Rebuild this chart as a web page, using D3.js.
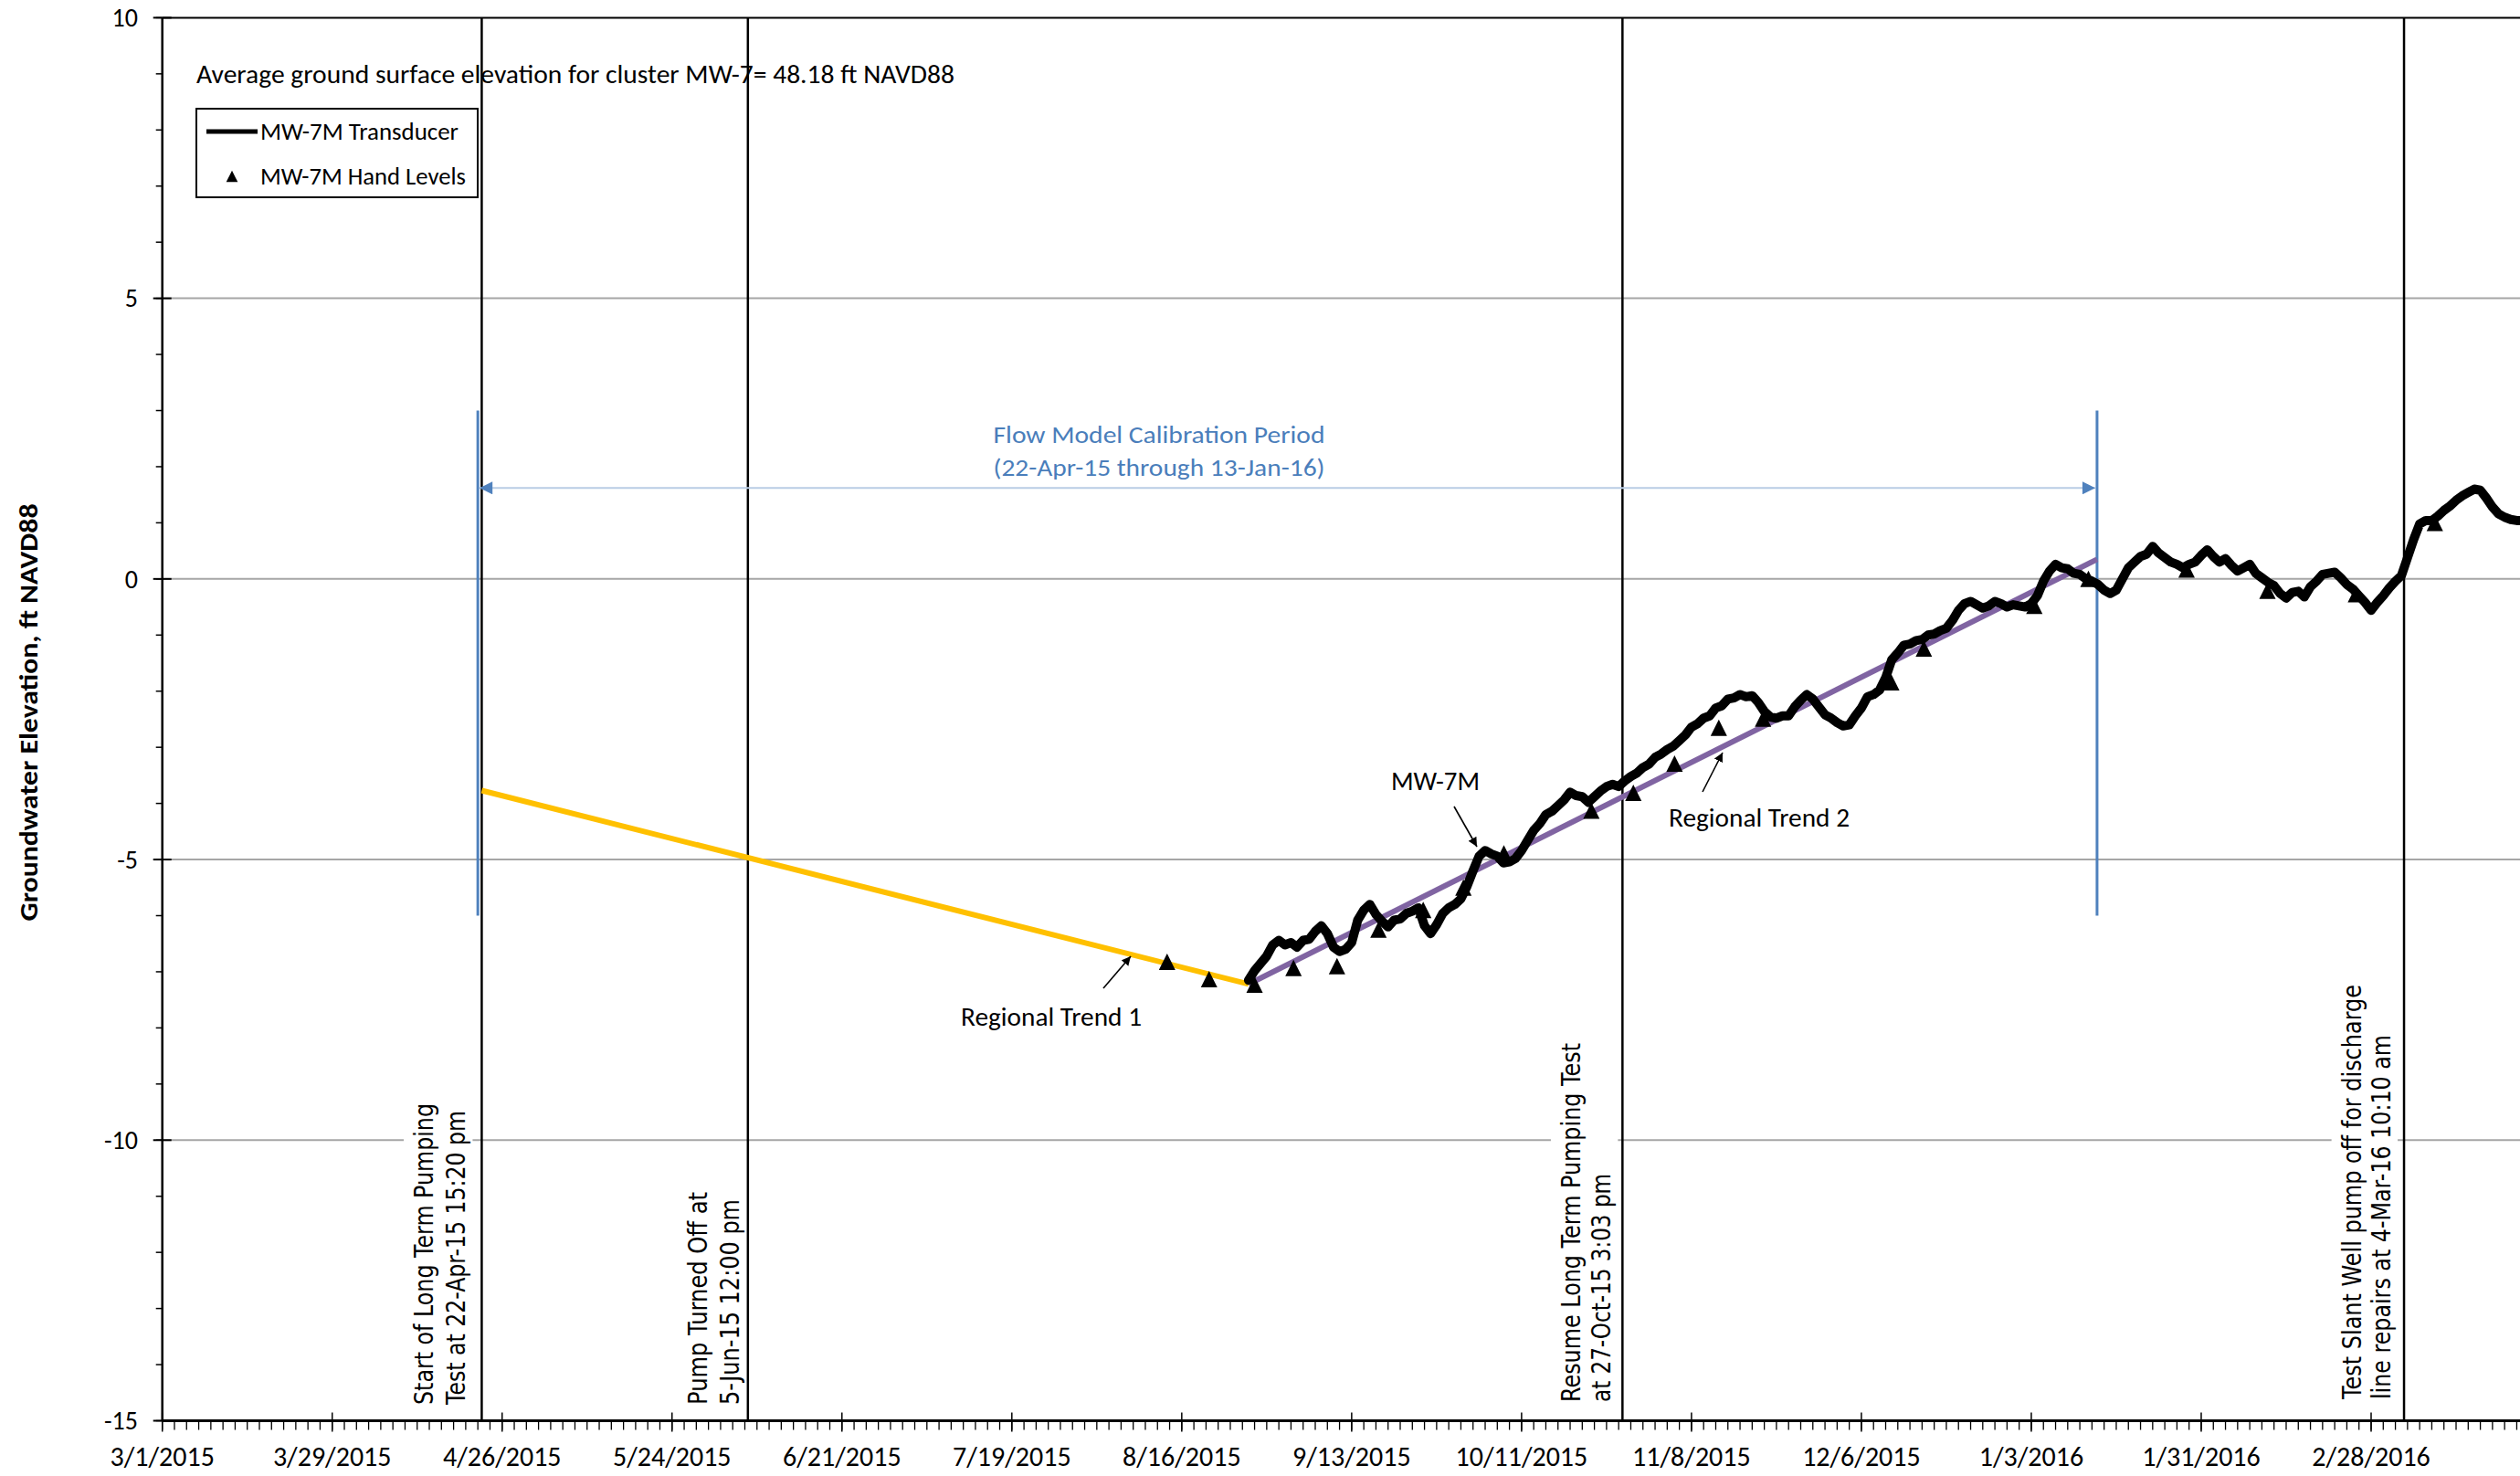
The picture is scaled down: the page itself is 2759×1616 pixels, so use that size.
<!DOCTYPE html>
<html><head><meta charset="utf-8">
<script src="https://cdn.jsdelivr.net/npm/d3@7"></script>
<style>html,body{margin:0;padding:0;background:#fff;}svg{display:block}</style>
</head><body>
<svg id="chart" width="2759" height="1616"></svg>
<script>
// ---------------- DATA ----------------
const xTickLabels = ["3/1/2015","3/29/2015","4/26/2015","5/24/2015","6/21/2015","7/19/2015","8/16/2015",
  "9/13/2015","10/11/2015","11/8/2015","12/6/2015","1/3/2016","1/31/2016","2/28/2016"];
const yTickValues = [10, 5, 0, -5, -10, -15];

// MW-7M transducer, daily readings starting 2015-08-27
const transducerStart = "2015-08-27";
const transducerValues = [
  -7.15,-6.98,-6.85,-6.72,-6.52,-6.44,-6.52,-6.48,-6.56,-6.44,
  -6.42,-6.28,-6.18,-6.32,-6.56,-6.64,-6.6,-6.48,-6.08,-5.9,
  -5.8,-5.98,-6.1,-6.2,-6.08,-6.06,-5.96,-5.92,-5.86,-6.18,
  -6.32,-6.16,-5.96,-5.86,-5.8,-5.7,-5.48,-5.2,-4.94,-4.84,
  -4.9,-4.94,-5.06,-5.04,-4.98,-4.84,-4.66,-4.48,-4.36,-4.2,
  -4.14,-4.04,-3.94,-3.8,-3.86,-3.88,-3.98,-3.88,-3.78,-3.7,
  -3.66,-3.7,-3.6,-3.52,-3.46,-3.36,-3.3,-3.18,-3.12,-3.04,
  -2.98,-2.88,-2.78,-2.64,-2.58,-2.48,-2.44,-2.3,-2.26,-2.14,
  -2.12,-2.06,-2.1,-2.08,-2.2,-2.36,-2.46,-2.48,-2.44,-2.44,
  -2.28,-2.16,-2.06,-2.14,-2.28,-2.42,-2.48,-2.56,-2.62,-2.6,
  -2.44,-2.3,-2.1,-2.06,-1.98,-1.76,-1.44,-1.32,-1.18,-1.16,
  -1.1,-1.08,-1.0,-0.98,-0.92,-0.88,-0.74,-0.56,-0.44,-0.4,
  -0.46,-0.52,-0.48,-0.4,-0.44,-0.5,-0.46,-0.48,-0.5,-0.44,
  -0.3,-0.04,0.14,0.26,0.2,0.18,0.1,0.08,0.0,-0.04,
  -0.1,-0.2,-0.26,-0.2,0.0,0.2,0.3,0.4,0.44,0.58,
  0.46,0.38,0.3,0.26,0.2,0.26,0.3,0.42,0.52,0.4,
  0.3,0.36,0.24,0.14,0.2,0.26,0.1,0.02,-0.06,-0.12,
  -0.26,-0.34,-0.24,-0.22,-0.32,-0.14,-0.04,0.08,0.1,0.12,
  0.02,-0.1,-0.18,-0.3,-0.42,-0.56,-0.42,-0.3,-0.16,-0.04,
  0.06,0.38,0.7,0.98,1.04,1.04,1.12,1.22,1.3,1.4,
  1.48,1.54,1.6,1.58,1.44,1.28,1.16,1.1,1.06,1.04,
  1.04
];

// MW-7M hand levels
const handDates = ["2015-08-13T14:00","2015-08-20T12:00","2015-08-28T00:00","2015-09-03T10:00","2015-09-10T14:00",
  "2015-09-17T10:00","2015-09-24T19:00","2015-10-01T10:00","2015-10-08T02:00","2015-10-22T12:00","2015-10-29T10:00",
  "2015-11-05T05:00","2015-11-12T12:00","2015-11-19T19:00","2015-12-10T22:00","2015-12-16T07:00","2016-01-03T12:00",
  "2016-01-12T10:00","2016-01-28T14:00","2016-02-10T22:00","2016-02-25T12:00","2016-03-09T12:00"];
const handValues = [-6.82,-7.13,-7.23,-6.93,-6.9,-6.25,-5.9,-5.5,-4.89,-4.13,-3.81,
  -3.29,-2.65,-2.49,-1.84,-1.24,-0.48,0.0,0.17,-0.21,-0.27,1.0];

// Regional trends
const trend1Dates = ["2015-04-22T15:20","2015-08-27T00:00"];
const trend1Values = [-3.77, -7.22];
const trend2Dates = ["2015-08-27T00:00","2016-01-13T20:00"];
const trend2Values = [-7.22, 0.35];

// Events
const eventDates = ["2015-04-22T15:20","2015-06-05T12:00","2015-10-27T15:03","2016-03-04T10:10"];
const eventLabels = [
  ["Start of Long Term Pumping","Test at 22-Apr-15 15:20 pm"],
  ["Pump Turned Off at","5-Jun-15 12:00 pm"],
  ["Resume Long Term Pumping Test","at 27-Oct-15 3:03 pm"],
  ["Test Slant Well pump off for discharge","line repairs at 4-Mar-16 10:10 am"]
];

// Calibration period
const calibDates = ["2015-04-22T00:00","2016-01-13T20:00"];
const calibBarValues = [3, -6];
const calibArrowValue = 1.62;
const calibText = ["Flow Model Calibration Period","(22-Apr-15 through 13-Jan-16)"];

// ---------------- LAYOUT ----------------
const W = 2759, H = 1616;
const L = 177.7, T = 19.4, B = 1555.5, R = 2759;
const F = "Carlito, Calibri, Lato, 'Noto Sans', sans-serif";
const FR = "'DejaVu Sans', Verdana, sans-serif";

const pt = d3.utcParse("%Y-%m-%dT%H:%M");
const pd = d3.utcParse("%Y-%m-%d");
const pl = d3.utcParse("%m/%d/%Y");

const x = d3.scaleUtc().domain([pl("3/1/2015"), pl("2/28/2016")]).range([L, 2596]);
const y = d3.scaleLinear().domain([-15, 10]).range([B, T]);

const svg = d3.select("#chart");
svg.append("rect").attr("width", W).attr("height", H).attr("fill", "#fff");

const defs = svg.append("defs");
defs.append("clipPath").attr("id", "plot").append("rect")
  .attr("x", L).attr("y", T - 6).attr("width", R - L).attr("height", B - T + 12);
defs.append("marker").attr("id", "arr").attr("viewBox", "0 0 10 10").attr("refX", 10).attr("refY", 5)
  .attr("markerWidth", 10).attr("markerHeight", 10).attr("markerUnits", "userSpaceOnUse").attr("orient", "auto")
  .append("path").attr("d", "M0,0 L10,5 L0,10 z").attr("fill", "#000");
defs.append("marker").attr("id", "barr").attr("viewBox", "0 0 10 10").attr("refX", 10).attr("refY", 5)
  .attr("markerWidth", 16).attr("markerHeight", 14).attr("markerUnits", "userSpaceOnUse").attr("orient", "auto-start-reverse")
  .append("path").attr("d", "M0,0 L10,5 L0,10 z").attr("fill", "#4f81bd");

const g = svg.append("g").attr("clip-path", "url(#plot)");

// gridlines
g.selectAll("line.grid").data(yTickValues.filter(v => v > -15 && v < 10)).join("line")
  .attr("x1", L).attr("x2", R).attr("y1", d => y(d)).attr("y2", d => y(d))
  .attr("stroke", "#a6a6a6").attr("stroke-width", 2);
g.append("line").attr("x1", L).attr("x2", R).attr("y1", y(10)).attr("y2", y(10))
  .attr("stroke", "#000").attr("stroke-width", 2);

// event labels (rotated) with white boxes
const labelGeom = [
  {off: 18, gap: 35, bottom: 1538, len: [330, 322]},
  {off: 10, gap: 35, bottom: 1538, len: [233, 225]},
  {off: 13, gap: 33, bottom: 1535, len: [393, 250]},
  {off: 15, gap: 32, bottom: 1532, len: [454, 399]}
];
const FS = 28;
eventDates.forEach((d, i) => {
  const ex = x(pt(d));
  const lg = labelGeom[i];
  const b2 = ex - lg.off, b1 = b2 - lg.gap;
  const maxLen = Math.max(...lg.len);
  g.append("rect").attr("x", b1 - FS * 0.8 - 10).attr("y", lg.bottom - maxLen - 6)
    .attr("width", (b2 + 8) - (b1 - FS * 0.8 - 10)).attr("height", maxLen + 12).attr("fill", "#fff");
  eventLabels[i].forEach((t, j) => {
    const bx = j === 0 ? b1 : b2;
    svg.append("text").attr("transform", `translate(${bx},${lg.bottom}) rotate(-90)`)
      .attr("font-family", FR).attr("font-size", FS).attr("fill", "#000")
      .attr("textLength", lg.len[j]).attr("lengthAdjust", "spacingAndGlyphs").text(t);
  });
});

// event lines
g.selectAll("line.ev").data(eventDates).join("line")
  .attr("x1", d => x(pt(d))).attr("x2", d => x(pt(d))).attr("y1", y(10)).attr("y2", y(-15))
  .attr("stroke", "#000").attr("stroke-width", 2.5);

// calibration period
g.selectAll("line.cal").data(calibDates).join("line")
  .attr("x1", d => x(pt(d))).attr("x2", d => x(pt(d)))
  .attr("y1", y(calibBarValues[0])).attr("y2", y(calibBarValues[1]))
  .attr("stroke", "#4f81bd").attr("stroke-width", 3);
g.append("line").attr("x1", x(pt(calibDates[0])) + 2).attr("x2", x(pt(calibDates[1])) - 2)
  .attr("y1", y(calibArrowValue)).attr("y2", y(calibArrowValue))
  .attr("stroke", "#b9cde5").attr("stroke-width", 2)
  .attr("marker-start", "url(#barr)").attr("marker-end", "url(#barr)");
calibText.forEach((t, i) => {
  svg.append("text").attr("x", 1269).attr("y", 485 + i * 36).attr("text-anchor", "middle")
    .attr("font-family", F).attr("font-size", 27).attr("fill", "#4a7ebb")
    .attr("textLength", 363).attr("lengthAdjust", "spacingAndGlyphs").text(t);
});

// trends
const lineGen = d3.line().x(d => x(d[0])).y(d => y(d[1]));
g.append("path").datum(trend1Dates.map((d, i) => [pt(d), trend1Values[i]]))
  .attr("d", lineGen).attr("fill", "none").attr("stroke", "#ffc000").attr("stroke-width", 6);
g.append("path").datum(trend2Dates.map((d, i) => [pt(d), trend2Values[i]]))
  .attr("d", lineGen).attr("fill", "none").attr("stroke", "#8064a2").attr("stroke-width", 6);

// transducer
const t0 = pd(transducerStart);
const trData = transducerValues.map((v, i) => [d3.utcDay.offset(t0, i), v]);
g.append("path").datum(trData).attr("d", lineGen).attr("fill", "none")
  .attr("stroke", "#000").attr("stroke-width", 10).attr("stroke-linejoin", "round").attr("stroke-linecap", "round");

// hand levels (triangle marker ~18x18 px)
const triPath = "M0,-9 L9,9 L-9,9 Z";
g.selectAll("path.hand").data(handDates.map((d, i) => [pt(d), handValues[i]])).join("path")
  .attr("transform", d => `translate(${x(d[0])},${y(d[1])})`).attr("d", triPath).attr("fill", "#000");

// annotations
const annos = [
  {t: "Average ground surface elevation for cluster MW-7= 48.18 ft NAVD88", x: 215, y: 91, len: 830},
  {t: "MW-7M", x: 1523, y: 865, len: 97},
  {t: "Regional Trend 2", x: 1827, y: 905, len: 198},
  {t: "Regional Trend 1", x: 1052, y: 1123, len: 198}
];
annos.forEach(a => svg.append("text").attr("x", a.x).attr("y", a.y).attr("font-family", F)
  .attr("font-size", 28).attr("fill", "#000").attr("textLength", a.len).attr("lengthAdjust", "spacingAndGlyphs").text(a.t));
const arrows = [[1592, 883, 1617, 927], [1864, 867, 1886, 824], [1208, 1082, 1238, 1047]];
arrows.forEach(a => svg.append("line").attr("x1", a[0]).attr("y1", a[1]).attr("x2", a[2]).attr("y2", a[3])
  .attr("stroke", "#000").attr("stroke-width", 1.6).attr("marker-end", "url(#arr)"));

// axes
const ax = svg.append("g");
ax.append("line").attr("x1", L).attr("x2", L).attr("y1", T).attr("y2", B).attr("stroke", "#000").attr("stroke-width", 2.5);
ax.selectAll("line.ymin").data(d3.range(-15, 10.5, 1)).join("line")
  .attr("x1", L - 7).attr("x2", L).attr("y1", d => y(d)).attr("y2", d => y(d)).attr("stroke", "#000").attr("stroke-width", 1.5);
ax.selectAll("line.ymaj").data(yTickValues).join("line")
  .attr("x1", L - 10).attr("x2", L + 10).attr("y1", d => y(d)).attr("y2", d => y(d)).attr("stroke", "#000").attr("stroke-width", 2);
ax.selectAll("text.yl").data(yTickValues).join("text")
  .attr("x", 151).attr("y", d => y(d)).attr("dy", "0.35em").attr("text-anchor", "end")
  .attr("font-family", F).attr("font-size", 28).attr("fill", "#000").text(d => d);

const xStart = pl("3/1/2015"), xEnd = x.invert(R);
ax.append("line").attr("x1", L).attr("x2", R).attr("y1", B).attr("y2", B).attr("stroke", "#000").attr("stroke-width", 3);
ax.selectAll("line.xmin").data(d3.utcDay.range(xStart, xEnd, 2)).join("line")
  .attr("x1", d => x(d)).attr("x2", d => x(d)).attr("y1", B).attr("y2", B + 10).attr("stroke", "#000").attr("stroke-width", 1.3);
ax.selectAll("line.xmaj").data(xTickLabels).join("line")
  .attr("x1", d => x(pl(d))).attr("x2", d => x(pl(d))).attr("y1", B - 9).attr("y2", B + 12).attr("stroke", "#000").attr("stroke-width", 1.5);
ax.selectAll("text.xl").data(xTickLabels).join("text")
  .attr("x", d => x(pl(d))).attr("y", 1605).attr("text-anchor", "middle")
  .attr("font-family", F).attr("font-size", 30).attr("fill", "#000").text(d => d);

// y title
svg.append("text").attr("transform", "translate(41,780) rotate(-90)").attr("text-anchor", "middle")
  .attr("font-family", F).attr("font-size", 28).attr("font-weight", "bold").attr("fill", "#000")
  .attr("textLength", 457).attr("lengthAdjust", "spacingAndGlyphs").text("Groundwater Elevation, ft NAVD88");

// legend
const lgd = svg.append("g");
lgd.append("rect").attr("x", 215).attr("y", 119).attr("width", 308).attr("height", 97)
  .attr("fill", "#fff").attr("stroke", "#000").attr("stroke-width", 2);
lgd.append("line").attr("x1", 226).attr("x2", 282).attr("y1", 144).attr("y2", 144).attr("stroke", "#000").attr("stroke-width", 5);
lgd.append("path").attr("transform", "translate(254,193) scale(0.7)").attr("d", triPath).attr("fill", "#000");
[["MW-7M Transducer", 153, 217], ["MW-7M Hand Levels", 202, 225]].forEach(r =>
  lgd.append("text").attr("x", 285).attr("y", r[1]).attr("font-family", F).attr("font-size", 26)
    .attr("textLength", r[2]).attr("lengthAdjust", "spacingAndGlyphs").attr("fill", "#000").text(r[0]));
</script>
</body></html>
